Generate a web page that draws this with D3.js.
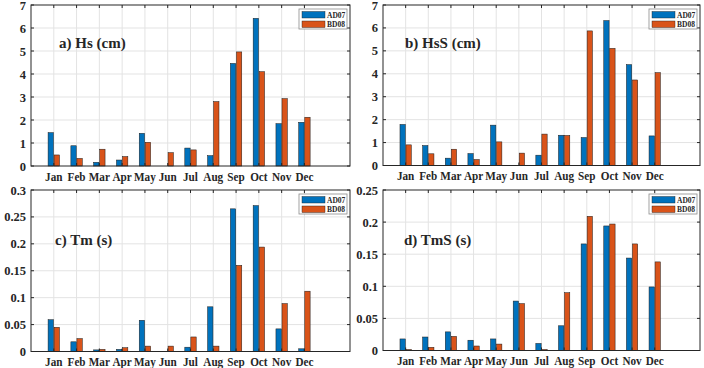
<!DOCTYPE html>
<html>
<head>
<meta charset="utf-8">
<script src="https://cdn.jsdelivr.net/npm/d3@7"></script>
<style>
body { margin: 0; background: #fff; }
text { font-family: "Liberation Serif", "Times New Roman", serif; font-weight: bold; fill: #262626; }
</style>
</head>
<body>
<script>
// monthly values
var months = ['Jan','Feb','Mar','Apr','May','Jun','Jul','Aug','Sep','Oct','Nov','Dec'];
var seriesNames = ['AD07', 'BD08'];

var hsAD07 = [1.45, 0.88, 0.16, 0.26, 1.42, 0, 0.78, 0.45, 4.46, 6.42, 1.84, 1.90];
var hsBD08 = [0.48, 0.33, 0.73, 0.41, 1.03, 0.58, 0.70, 2.80, 4.96, 4.10, 2.93, 2.12];

var hssAD07 = [1.79, 0.87, 0.32, 0.52, 1.76, 0, 0.45, 1.32, 1.22, 6.32, 4.40, 1.29];
var hssBD08 = [0.90, 0.51, 0.71, 0.26, 1.03, 0.54, 1.37, 1.31, 5.87, 5.11, 3.73, 4.05];

var tmAD07 = [0.059, 0.018, 0.003, 0.004, 0.058, 0, 0.008, 0.083, 0.265, 0.271, 0.042, 0.005];
var tmBD08 = [0.045, 0.024, 0.004, 0.007, 0.010, 0.010, 0.027, 0.010, 0.160, 0.194, 0.089, 0.112];

var tmsAD07 = [0.018, 0.021, 0.029, 0.016, 0.018, 0.077, 0.011, 0.0385, 0.166, 0.194, 0.144, 0.099];
var tmsBD08 = [0.0016, 0.005, 0.022, 0.007, 0.010, 0.073, 0.0016, 0.090, 0.209, 0.197, 0.166, 0.138];

var ticksH = [0, 1, 2, 3, 4, 5, 6, 7];
var ticksTm = [0, 0.05, 0.1, 0.15, 0.2, 0.25, 0.3];
var ticksTmS = [0, 0.05, 0.1, 0.15, 0.2, 0.25];

var colors = ['#0072BD', '#D95319'];

var svg = d3.select('body').append('svg')
    .attr('width', 704)
    .attr('height', 368);

function drawPanel(p) {
  var g = svg.append('g');

  var x = d3.scaleLinear().domain([0, 14]).range([p.left, p.right]);
  var y = d3.scaleLinear().domain([0, p.ticks[p.ticks.length - 1]]).range([p.bottom, p.top]);

  // grid
  g.selectAll('.gy').data(p.ticks.slice(1, -1)).enter().append('line')
    .attr('x1', p.left).attr('x2', p.right)
    .attr('y1', function (d) { return y(d); }).attr('y2', function (d) { return y(d); })
    .attr('stroke', '#e3e3e3').attr('stroke-width', 1);
  g.selectAll('.gx').data(months).enter().append('line')
    .attr('x1', function (d, i) { return x(i + 1); }).attr('x2', function (d, i) { return x(i + 1); })
    .attr('y1', p.top).attr('y2', p.bottom)
    .attr('stroke', '#e3e3e3').attr('stroke-width', 1);

  // bars
  var w = 0.235, gap = 0.015;
  [p.a, p.b].forEach(function (vals, s) {
    g.selectAll('.bar' + s).data(vals).enter().append('rect')
      .attr('x', function (d, i) { return s == 0 ? x(i + 1 - gap - w) : x(i + 1 + gap); })
      .attr('width', x(w) - x(0))
      .attr('y', function (d) { return y(d); })
      .attr('height', function (d) { return y(0) - y(d); })
      .attr('fill', colors[s])
      .attr('stroke', '#1a1a1a')
      .attr('stroke-width', 0.5);
  });

  // box
  g.append('rect')
    .attr('x', p.left).attr('y', p.top)
    .attr('width', p.right - p.left).attr('height', p.bottom - p.top)
    .attr('fill', 'none').attr('stroke', '#262626').attr('stroke-width', 1);

  // ticks, inward on all sides
  var tl = 3;
  p.ticks.forEach(function (t) {
    g.append('line').attr('x1', p.left).attr('x2', p.left + tl)
      .attr('y1', y(t)).attr('y2', y(t)).attr('stroke', '#262626');
    g.append('line').attr('x1', p.right).attr('x2', p.right - tl)
      .attr('y1', y(t)).attr('y2', y(t)).attr('stroke', '#262626');
    g.append('text').attr('x', p.left - 5).attr('y', y(t) + 4.5)
      .attr('text-anchor', 'end').attr('font-size', '12.5px')
      .text(d3.format('~g')(t));
  });
  months.forEach(function (m, i) {
    g.append('line').attr('x1', x(i + 1)).attr('x2', x(i + 1))
      .attr('y1', p.bottom).attr('y2', p.bottom - tl).attr('stroke', '#262626');
    g.append('line').attr('x1', x(i + 1)).attr('x2', x(i + 1))
      .attr('y1', p.top).attr('y2', p.top + tl).attr('stroke', '#262626');
    var t = g.append('text').attr('x', x(i + 1)).attr('y', p.bottom + 14.5)
      .attr('text-anchor', 'middle').attr('font-size', '13px')
      .text(m);
    // labels in the figure are a bit narrower than the font
    var len = t.node().getComputedTextLength();
    t.attr('textLength', len * 0.86).attr('lengthAdjust', 'spacingAndGlyphs');
  });

  // title
  g.append('text').attr('x', p.tx).attr('y', p.ty)
    .attr('font-size', '15px').attr('fill', '#111')
    .text(p.title);

  // legend
  var lx = p.right - 51, ly = p.top + 4;
  g.append('rect').attr('x', lx).attr('y', ly).attr('width', 48).attr('height', 20)
    .attr('fill', '#fff').attr('stroke', '#8c8c8c').attr('stroke-width', 0.8);
  seriesNames.forEach(function (n, s) {
    g.append('rect').attr('x', lx + 3).attr('y', ly + 2.5 + s * 9.5)
      .attr('width', 23).attr('height', 6.5)
      .attr('fill', colors[s]).attr('stroke', '#1a1a1a').attr('stroke-width', 0.4);
    g.append('text').attr('x', lx + 28).attr('y', ly + 8.5 + s * 9.5)
      .attr('font-size', '7.5px').text(n);
  });
}

drawPanel({left: 31, right: 350, top: 5, bottom: 166, ticks: ticksH,
  a: hsAD07, b: hsBD08, title: 'a) Hs (cm)', tx: 59, ty: 48});
drawPanel({left: 383, right: 700, top: 5, bottom: 165.5, ticks: ticksH,
  a: hssAD07, b: hssBD08, title: 'b) HsS (cm)', tx: 405, ty: 48});
drawPanel({left: 31, right: 350, top: 190, bottom: 351.5, ticks: ticksTm,
  a: tmAD07, b: tmBD08, title: 'c) Tm (s)', tx: 55, ty: 245});
drawPanel({left: 383, right: 700, top: 190, bottom: 350.5, ticks: ticksTmS,
  a: tmsAD07, b: tmsBD08, title: 'd) TmS (s)', tx: 404, ty: 245});
</script>
</body>
</html>
